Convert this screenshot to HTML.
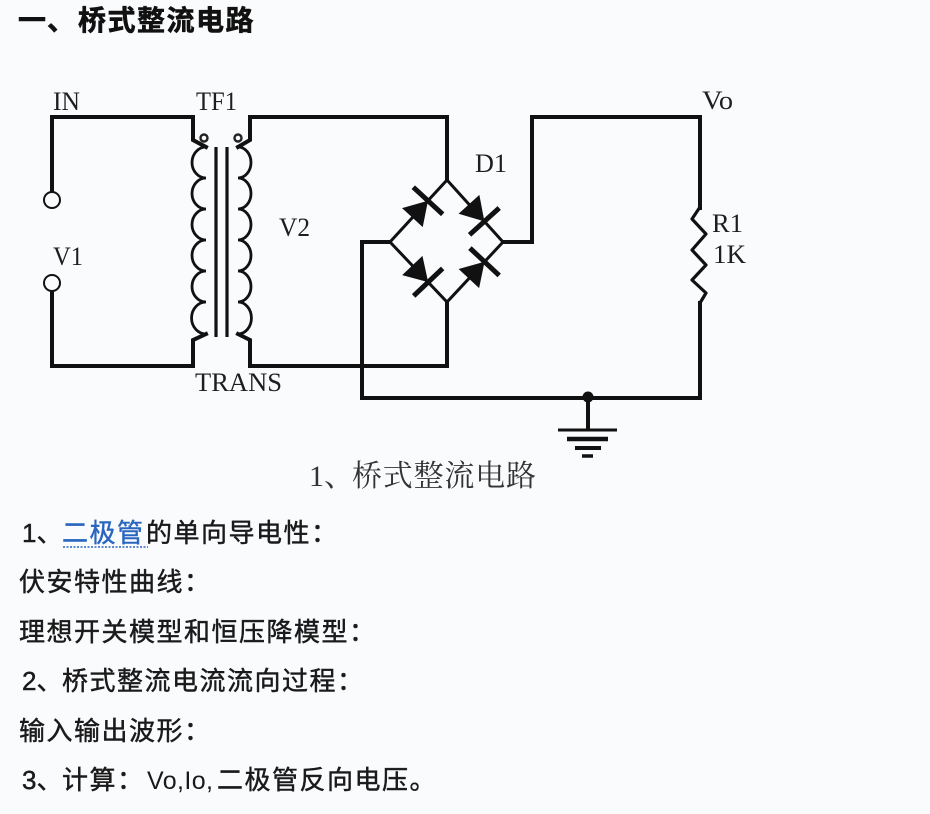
<!DOCTYPE html>
<html><head><meta charset="utf-8"><style>
html,body{margin:0;padding:0;background:#fafbfd;}
svg{display:block;}
.s{font-family:"Liberation Serif","Noto Serif CJK SC",serif;fill:#1e1e1e;}
.b{font-family:"Liberation Sans","Noto Sans CJK SC",sans-serif;fill:#1a1a1a;stroke:#1a1a1a;stroke-width:0.45px;font-size:26px;letter-spacing:1.5px;}
</style></head><body>
<svg width="930" height="814" viewBox="0 0 930 814" xmlns="http://www.w3.org/2000/svg">
<rect x="0" y="0" width="930" height="814" fill="#fafbfd"/>
<!-- title -->
<text x="18" y="30" style="font-family:'Liberation Sans','Noto Sans CJK SC',sans-serif;font-weight:700;font-size:28px;letter-spacing:1px;fill:#111;stroke:#111;stroke-width:0.6px">一、</text>
<text x="78" y="30" style="font-family:'Liberation Sans','Noto Sans CJK SC',sans-serif;font-weight:700;font-size:28px;letter-spacing:1.5px;fill:#111;stroke:#111;stroke-width:0.6px">桥式整流电路</text>

<g fill="none" stroke="#111" stroke-linejoin="miter" stroke-linecap="square">
  <path d="M52,117 H193 V140 L206,147" stroke-width="4"/>
  <path d="M52,117 V192" stroke-width="4"/>
  <path d="M52,291 V366 H193 V340 L206,334" stroke-width="4"/>
  <path d="M238,147 L250,140 V117 H447 V180" stroke-width="4"/>
  <path d="M238,334 L250,340 V366 H447 V302" stroke-width="4"/>
  <path d="M503,242 H532 V117 H700 V208" stroke-width="4"/>
  <path d="M700,303 V398 H362 V242 H390" stroke-width="4"/>
  <path d="M588,398 V429" stroke-width="4"/>
</g>
<circle cx="52" cy="200" r="8" fill="#fafbfd" stroke="#111" stroke-width="2"/>
<circle cx="52" cy="283" r="8" fill="#fafbfd" stroke="#111" stroke-width="2"/>
<!-- coils -->
<path d="M206,147 A14,15.5 0 0 0 206,178 A14,15.5 0 0 0 206,209 A14,15.5 0 0 0 206,240 A14,15.5 0 0 0 206,271 A14,15.5 0 0 0 206,302 A14,15.5 0 0 0 206,334" fill="none" stroke="#111" stroke-width="2.8"/>
<path d="M238,147 A13,15.5 0 0 1 238,178 A13,15.5 0 0 1 238,209 A13,15.5 0 0 1 238,240 A13,15.5 0 0 1 238,271 A13,15.5 0 0 1 238,302 A13,15.5 0 0 1 238,334" fill="none" stroke="#111" stroke-width="2.8"/>
<line x1="216" y1="147" x2="216" y2="337" stroke="#111" stroke-width="3.2"/>
<line x1="227" y1="147" x2="227" y2="337" stroke="#111" stroke-width="3.2"/>
<circle cx="204" cy="138" r="3.5" fill="none" stroke="#222" stroke-width="2.4"/>
<circle cx="238" cy="138" r="3.5" fill="none" stroke="#222" stroke-width="2.4"/>

<!-- bridge -->
<path d="M447,180 L503,242 L447,302 L390,242 Z" fill="none" stroke="#111" stroke-width="3"/>
<g fill="#111" stroke="#111">
  <g transform="translate(418.5,211) rotate(-47.4)"><polygon points="-9,-14 -9,14 14,0" stroke="none"/><line x1="14" y1="-20" x2="14" y2="20" stroke-width="5"/></g>
  <g transform="translate(475,211) rotate(47.9)"><polygon points="-9,-14 -9,14 14,0" stroke="none"/><line x1="14" y1="-20" x2="14" y2="20" stroke-width="5"/></g>
  <g transform="translate(418.5,272) rotate(46.5)"><polygon points="-9,-14 -9,14 14,0" stroke="none"/><line x1="14" y1="-20" x2="14" y2="20" stroke-width="5"/></g>
  <g transform="translate(475,272) rotate(-47)"><polygon points="-9,-14 -9,14 14,0" stroke="none"/><line x1="14" y1="-20" x2="14" y2="20" stroke-width="5"/></g>
</g>
<!-- resistor -->
<polyline points="700,207 692,219 706,234 692,250 706,265 692,280 706,293 700,303" fill="none" stroke="#111" stroke-width="3.2" stroke-linejoin="round"/>
<!-- ground -->
<circle cx="588" cy="397" r="5.5" fill="#111"/>
<line x1="558" y1="430" x2="617" y2="430" stroke="#111" stroke-width="3"/>
<line x1="567" y1="439" x2="608" y2="439" stroke="#111" stroke-width="4.5"/>
<line x1="575" y1="448" x2="601" y2="448" stroke="#111" stroke-width="4"/>
<line x1="582" y1="456" x2="593" y2="456" stroke="#111" stroke-width="3.5"/>

<!-- labels -->
<text class="s" x="53" y="110" font-size="26" textLength="27" lengthAdjust="spacingAndGlyphs">IN</text>
<text class="s" x="196" y="110" font-size="26" textLength="41" lengthAdjust="spacingAndGlyphs">TF1</text>
<text class="s" x="279" y="236" font-size="26" textLength="31" lengthAdjust="spacingAndGlyphs">V2</text>
<text class="s" x="53" y="265" font-size="26" textLength="30" lengthAdjust="spacingAndGlyphs">V1</text>
<text class="s" x="195" y="391" font-size="26" textLength="87" lengthAdjust="spacingAndGlyphs">TRANS</text>
<text class="s" x="475" y="172" font-size="26" textLength="32" lengthAdjust="spacingAndGlyphs">D1</text>
<text class="s" x="702" y="109" font-size="26" textLength="31" lengthAdjust="spacingAndGlyphs">Vo</text>
<text class="s" x="712" y="232" font-size="26" textLength="31" lengthAdjust="spacingAndGlyphs">R1</text>
<text class="s" x="713" y="263" font-size="26" textLength="33" lengthAdjust="spacingAndGlyphs">1K</text>

<!-- caption -->
<text x="309" y="486" style="font-family:'Liberation Serif','Noto Serif CJK SC',serif;font-size:30px;fill:#333">1、</text>
<text x="352" y="486" style="font-family:'Liberation Serif','Noto Serif CJK SC',serif;font-size:30px;letter-spacing:0.8px;fill:#333">桥式整流电路</text>

<!-- body text -->
<text class="b" x="22" y="542" style="letter-spacing:0">1、</text>
<text class="b" x="62" y="542" style="fill:#2a66c0;stroke:#2a66c0">二极管</text>
<line x1="63" y1="547" x2="148" y2="547" stroke="#2a66c0" stroke-width="1.6" stroke-dasharray="2,1.5"/>
<text class="b" x="146" y="542">的单向导电性：</text>

<text class="b" x="19" y="591">伏安特性曲线：</text>
<text class="b" x="19" y="641">理想开关模型和恒压降模型：</text>

<text class="b" x="22" y="690" style="letter-spacing:0">2、</text>
<text class="b" x="62" y="690">桥式整流电流流向过程：</text>

<text class="b" x="19" y="740">输入输出波形：</text>

<text class="b" x="22" y="789" style="letter-spacing:0">3、</text>
<text class="b" x="62" y="789">计算：</text>
<text x="147" y="789" style="font-family:'Liberation Sans',sans-serif;font-size:25px;fill:#1a1a1a" textLength="66" lengthAdjust="spacing">Vo,Io,</text>
<text class="b" x="217" y="789">二极管反向电压。</text>
</svg>
</body></html>
